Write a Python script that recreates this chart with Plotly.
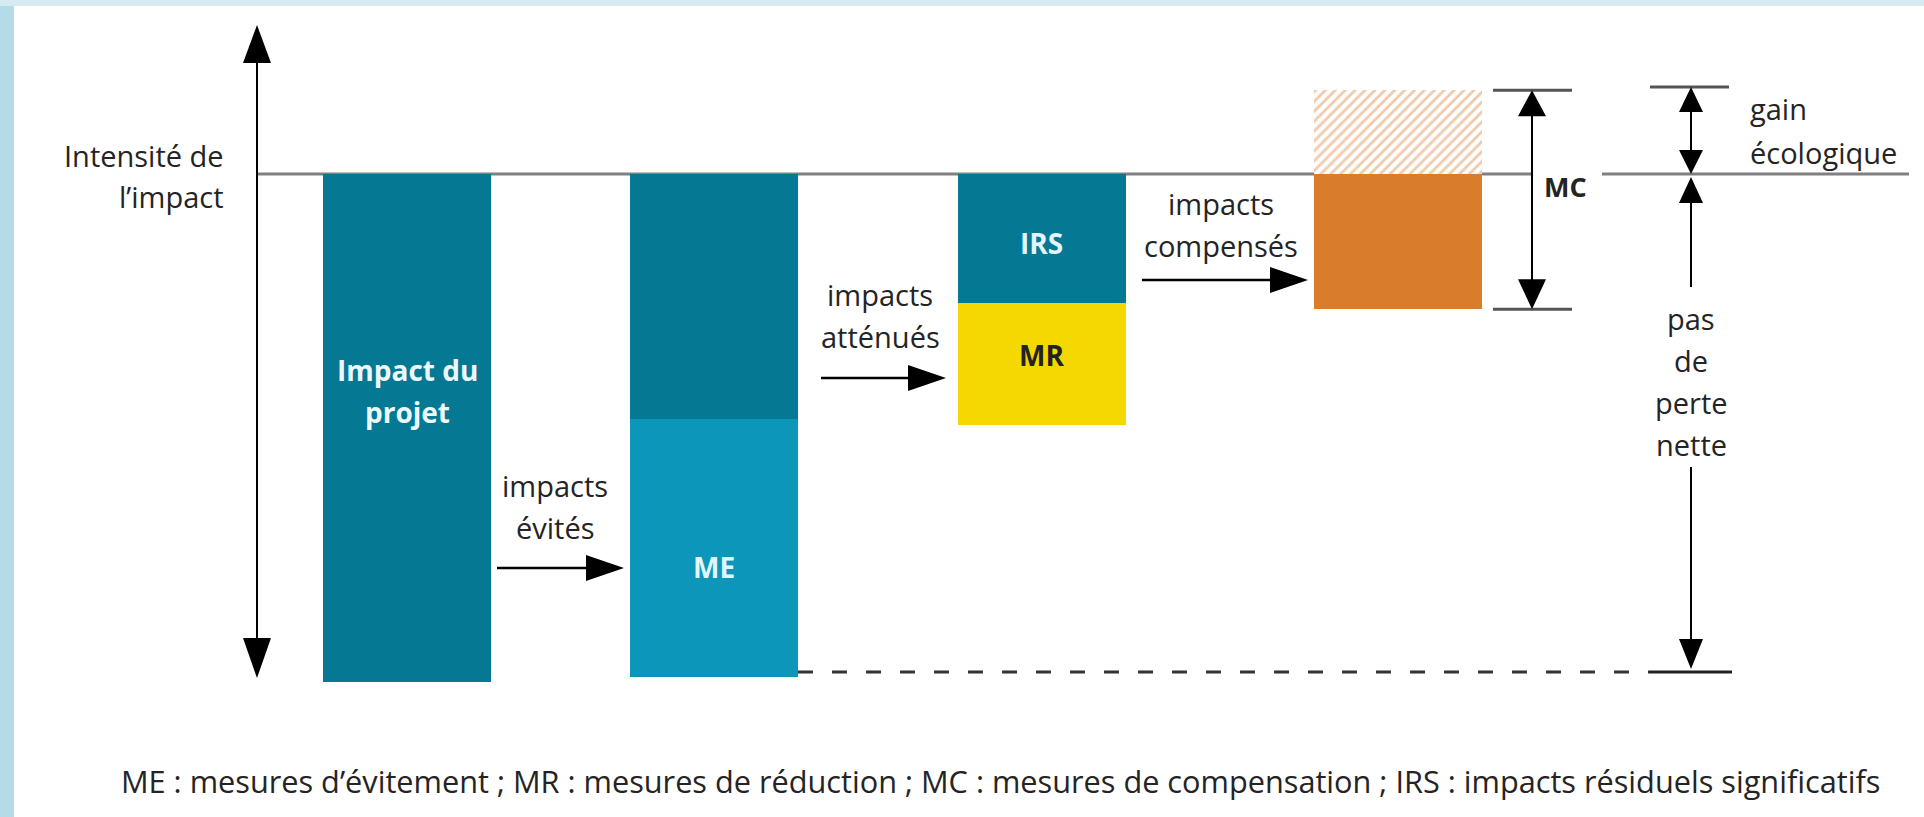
import plotly.graph_objects as go

# ---------------- data (intensity units; project impact = 100) ----------------
stages = ["Impact du projet", "Après évitement", "Après réduction", "Compensation"]
impact_projet = [100.0]          # full impact of the project
apres_evitement = [48.2]         # remaining impact after avoidance (dark part, bar 2)
mesures_evitement = [50.8]       # ME
impacts_residuels = [25.4]       # IRS
mesures_reduction = [24.0]       # MR
mesures_compensation = [26.6]    # MC (solid orange)
gain_ecologique = [16.5]         # hatched part above the baseline

# ---------------- layout constants ----------------
W, H = 1924, 817
BASE_PX = 174          # pixel row of the baseline (intensity 0)
PX_PER_UNIT = 5.08     # pixels per intensity unit
BAR_X = [407, 713.5, 1041.5, 1398]
BAR_W = 168

DARK = "#057993"
LIGHT = "#0b96ba"
YELLOW = "#f4d800"
ORANGE = "#d97d2c"
HATCH = "#e0965a"
TXT = "#242424"
GRAY = "#808080"
FONT = "Open Sans"


def yv(px):
    return (BASE_PX - px) / PX_PER_UNIT


def d(px):
    return px / PX_PER_UNIT


fig = go.Figure()


def bar(i, value, base, color, **kw):
    fig.add_trace(go.Bar(x=[BAR_X[i]], y=value, base=base, width=BAR_W,
                         marker=dict(color=color, line=dict(width=0), **kw),
                         hoverinfo="skip", showlegend=False))


bar(0, [-v for v in impact_projet], [0], DARK)
bar(1, [-v for v in apres_evitement], [0], DARK)
bar(1, [-v for v in mesures_evitement], [-apres_evitement[0]], LIGHT)
bar(2, [-v for v in impacts_residuels], [0], DARK)
bar(2, [-v for v in mesures_reduction], [-impacts_residuels[0]], YELLOW)
bar(3, [-v for v in mesures_compensation], [0], ORANGE)
fig.add_trace(go.Bar(x=[BAR_X[3]], y=gain_ecologique, base=[0], width=BAR_W,
                     marker=dict(color="white", line=dict(width=0),
                                 pattern=dict(shape="/", fgcolor=HATCH, bgcolor="white",
                                              size=7, solidity=0.4)),
                     hoverinfo="skip", showlegend=False))

shapes = []


def line(x0, y0, x1, y1, color="black", width=2.5, dash=None, layer="above"):
    ln = dict(color=color, width=width)
    if dash:
        ln["dash"] = dash
    shapes.append(dict(type="line", xref="x", yref="y", x0=x0, y0=y0, x1=x1, y1=y1,
                       line=ln, layer=layer))


def head(tx, ty, direction, length=38, half=13):
    # tx in x units, ty in y units, length/half in pixels
    if direction == "up":
        pts = [(tx, ty), (tx - half, ty - d(length)), (tx + half, ty - d(length))]
    elif direction == "down":
        pts = [(tx, ty), (tx - half, ty + d(length)), (tx + half, ty + d(length))]
    else:  # right
        pts = [(tx, ty), (tx - length, ty + d(half)), (tx - length, ty - d(half))]
    path = "M " + " L ".join(f"{x},{y}" for x, y in pts) + " Z"
    shapes.append(dict(type="path", xref="x", yref="y", path=path,
                       fillcolor="black", line=dict(width=0)))


# frame strips
shapes.append(dict(type="rect", xref="paper", yref="paper", x0=0, x1=14 / W, y0=0, y1=1,
                   fillcolor="#b3dce6", line=dict(width=0)))
shapes.append(dict(type="rect", xref="paper", yref="paper", x0=0, x1=1, y0=1 - 6 / H, y1=1,
                   fillcolor="#d6ebf1", line=dict(width=0)))

# baseline
line(257, 0, 1532, 0, color=GRAY, width=3, layer="below")
line(1602, 0, 1909, 0, color=GRAY, width=3, layer="below")

# vertical intensity axis
AX = 257
line(AX, yv(45), AX, yv(660), width=2)
head(AX, yv(25), "up", length=38, half=14)
head(AX, yv(678), "down", length=40, half=14)

# horizontal arrows
for x0, x1, ypx in [(497, 624, 568), (821, 946, 378), (1142, 1308, 280)]:
    line(x0, yv(ypx), x1 - 30, yv(ypx), width=2.5)
    head(x1, yv(ypx), "right", length=38, half=13)

# MC bracket
mc_top = gain_ecologique[0]
mc_bot = -mesures_compensation[0]
line(1493, mc_top, 1572, mc_top, color="#555555", width=3)
line(1493, mc_bot, 1572, mc_bot, color="#555555", width=3)
line(1532, mc_top - d(20), 1532, mc_bot + d(20), width=2)
head(1532, mc_top, "up", length=26, half=14)
head(1532, mc_bot, "down", length=30, half=14)

# gain écologique arrow
GX = 1691
g_top = yv(87)
line(1650, g_top, 1729, g_top, color="#555555", width=3)
line(GX, g_top - d(20), GX, 0 + d(20), width=2)
head(GX, g_top, "up", length=25, half=12)
head(GX, 0, "down", length=24, half=12)

# pas de perte nette arrow
head(GX, yv(177), "up", length=26, half=12)
line(GX, yv(200), GX, yv(287), width=2)
line(GX, yv(467), GX, yv(650), width=2)
head(GX, yv(669), "down", length=30, half=12)

# dashed no-net-loss level
line(798, yv(672), 1649, yv(672), color="#333333", width=3, dash="15px,19px")
line(1649, yv(672), 1732, yv(672), color="#222222", width=3)

annotations = []


def text(x, ypx, s, size=29, color=TXT, xanchor="center", bold=False):
    annotations.append(dict(x=x, y=yv(ypx), xref="x", yref="y", text=s, showarrow=False,
                            xanchor=xanchor, yanchor="middle",
                            font=dict(family=FONT, size=size, color=color,
                                      weight=700 if bold else 400)))


text(226, 155, "Intensité de", xanchor="right")
text(226, 196, "l’impact", xanchor="right")
text(BAR_X[0], 370, "Impact du", size=28, color="#eef9ff", bold=True)
text(BAR_X[0], 412, "projet", size=28, color="#eef9ff", bold=True)
text(BAR_X[1], 567, "ME", size=28, color="#e3f6ff", bold=True)
text(BAR_X[2], 243, "IRS", size=28, color="#e3f6ff", bold=True)
text(BAR_X[2], 355, "MR", size=28, color="#222222", bold=True)
text(555, 485, "impacts")
text(555, 527, "évités")
text(880, 294, "impacts")
text(880, 336, "atténués")
text(1221, 203, "impacts")
text(1221, 245, "compensés")
text(1542, 186, "MC", size=27, xanchor="left", bold=True)
text(1748, 108, "gain", xanchor="left")
text(1748, 152, "écologique", xanchor="left")
text(GX, 318, "pas")
text(GX, 360, "de")
text(GX, 402, "perte")
text(GX, 444, "nette")
text(119, 781, "ME : mesures d’évitement ; MR : mesures de réduction ; MC : mesures de compensation ; "
               "IRS : impacts résiduels significatifs", size=30.7, xanchor="left")

fig.update_layout(
    width=W, height=H, margin=dict(l=0, r=0, t=0, b=0),
    paper_bgcolor="white", plot_bgcolor="white",
    barmode="overlay", bargap=0, showlegend=False,
    xaxis=dict(range=[0, W], visible=False, fixedrange=True),
    yaxis=dict(range=[yv(H), yv(0)], visible=False, fixedrange=True),
    shapes=shapes, annotations=annotations, hovermode=False,
)

fig.write_html("out.html", config={"displayModeBar": False},
               post_script="document.body.style.margin='0';document.body.style.overflow='hidden';")
